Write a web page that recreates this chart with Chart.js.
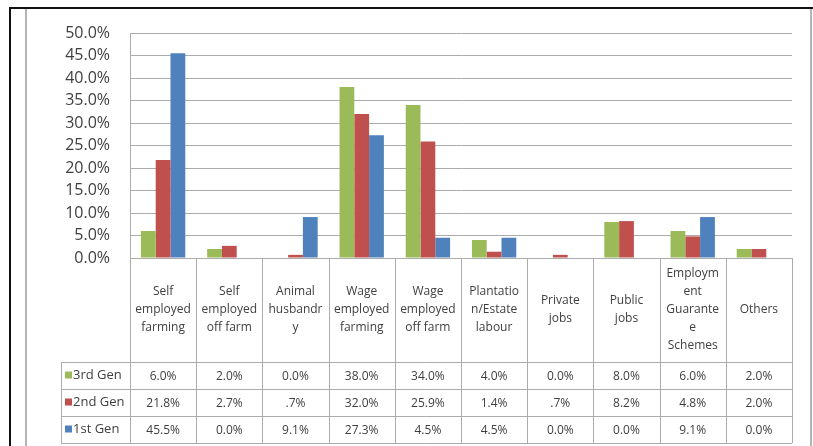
<!DOCTYPE html>
<html>
<head>
<meta charset="utf-8">
<script src="https://cdn.jsdelivr.net/npm/chart.js@4/dist/chart.umd.min.js"></script>
<style>
  body { margin: 0; background: #fff; }
  canvas { display: block; }
</style>
</head>
<body>
<canvas id="mychart" width="813" height="446"></canvas>
<script>
'use strict';
// categories (multi-line, as wrapped in the data table header)
const categories = [
  ['Self', 'employed', 'farming'],
  ['Self', 'employed', 'off farm'],
  ['Animal', 'husbandr', 'y'],
  ['Wage', 'employed', 'farming'],
  ['Wage', 'employed', 'off farm'],
  ['Plantatio', 'n/Estate', 'labour'],
  ['Private', 'jobs'],
  ['Public', 'jobs'],
  ['Employm', 'ent', 'Guarante', 'e', 'Schemes'],
  ['Others']
];
const seriesNames = ['3rd Gen', '2nd Gen', '1st Gen'];
const gen3 = [6.0, 2.0, 0.0, 38.0, 34.0, 4.0, 0.0, 8.0, 6.0, 2.0];
const gen2 = [21.8, 2.7, 0.7, 32.0, 25.9, 1.4, 0.7, 8.2, 4.8, 2.0];
const gen1 = [45.5, 0.0, 9.1, 27.3, 4.5, 4.5, 0.0, 0.0, 9.1, 0.0];
const colors = ['#9BBB59', '#C0504D', '#4F81BD'];

const lineCol = '#ababab';
const textCol = '#404040';

function fmt(v) {
  if (v > 0 && v < 1) return String(v).replace(/^0/, '') + '%';
  return v.toFixed(1) + '%';
}

// draws the outer frame and the data table under the plot
const tablePlugin = {
  id: 'table',
  beforeDraw(chart) {
    const c = chart.ctx;
    c.save();
    c.fillStyle = '#fff';
    c.fillRect(0, 0, chart.width, chart.height);
    c.strokeStyle = '#111';
    c.lineWidth = 2;
    c.beginPath();
    c.moveTo(9, 8); c.lineTo(813, 8);
    c.moveTo(10, 8); c.lineTo(10, 446);
    c.stroke();
    c.strokeStyle = '#b5b5b5';
    c.beginPath();
    c.moveTo(26, 9); c.lineTo(26, 446);
    c.moveTo(811, 9); c.lineTo(811, 446);
    c.stroke();
    c.restore();
  },
  afterDraw(chart) {
    const c = chart.ctx;
    const x = chart.scales.x;
    const area = chart.chartArea;
    const top = area.bottom;
    const headBottom = 362;
    const rowH = 27;
    const legLeft = 61;
    const n = categories.length;
    const w = (area.right - area.left) / n;
    const rows = [gen3, gen2, gen1];
    c.save();
    c.strokeStyle = lineCol;
    c.lineWidth = 1;
    c.beginPath();
    for (let i = 0; i <= n; i++) {
      const px = Math.round(i < n ? x.getPixelForValue(i) - w / 2 : x.getPixelForValue(n - 1) + w / 2) + 0.5;
      c.moveTo(px, top); c.lineTo(px, headBottom + rowH * 3);
    }
    for (let r = 0; r <= 3; r++) {
      const py = headBottom + rowH * r + 0.5;
      c.moveTo(legLeft, py); c.lineTo(area.right, py);
    }
    c.moveTo(legLeft + 0.5, headBottom); c.lineTo(legLeft + 0.5, headBottom + rowH * 3);
    c.stroke();

    c.fillStyle = textCol;
    c.textAlign = 'center';
    c.textBaseline = 'middle';
    c.font = '12px "Open Sans"';
    const lh = 18;
    categories.forEach((lines, i) => {
      const cx = x.getPixelForValue(i);
      const cy = (top + headBottom) / 2 - (lines.length - 1) * lh / 2;
      lines.forEach((t, k) => c.fillText(t, cx, cy + k * lh));
    });
    c.font = '12px "Open Sans"';
    rows.forEach((vals, r) => {
      const cy = headBottom + rowH * r + rowH / 2 + 1;
      vals.forEach((v, i) => c.fillText(fmt(v), x.getPixelForValue(i), cy));
    });
    c.textAlign = 'left';
    c.font = '13px "Open Sans"';
    seriesNames.forEach((s, r) => {
      const cy = headBottom + rowH * r + rowH / 2;
      c.fillStyle = colors[r];
      c.fillRect(65, cy - 4, 7, 7);
      c.fillStyle = textCol;
      c.fillText(s, 73, cy);
    });
    c.restore();
  }
};

const mychart = document.getElementById('mychart').getContext('2d');
const barchart = new Chart(mychart, {
  type: 'bar',
  data: {
    labels: categories,
    datasets: [
      { label: seriesNames[0], data: gen3, backgroundColor: colors[0] },
      { label: seriesNames[1], data: gen2, backgroundColor: colors[1] },
      { label: seriesNames[2], data: gen1, backgroundColor: colors[2] }
    ]
  },
  options: {
    responsive: false,
    animation: false,
    devicePixelRatio: 1,
    layout: { padding: { top: 33, right: 21, bottom: 188, left: 0 } },
    datasets: { bar: { categoryPercentage: 0.67, barPercentage: 1.0 } },
    plugins: { legend: { display: false }, tooltip: { enabled: false } },
    scales: {
      x: { display: false },
      y: {
        min: 0,
        max: 50,
        afterFit(scale) { scale.width = 130; },
        ticks: {
          stepSize: 5,
          autoSkip: false,
          padding: 20,
          color: textCol,
          font: { family: 'Open Sans', size: 16 },
          callback: v => v.toFixed(1) + '%'
        },
        grid: { color: lineCol, drawTicks: false },
        border: { display: true, color: lineCol }
      }
    }
  },
  plugins: [tablePlugin]
});
</script>
</body>
</html>
